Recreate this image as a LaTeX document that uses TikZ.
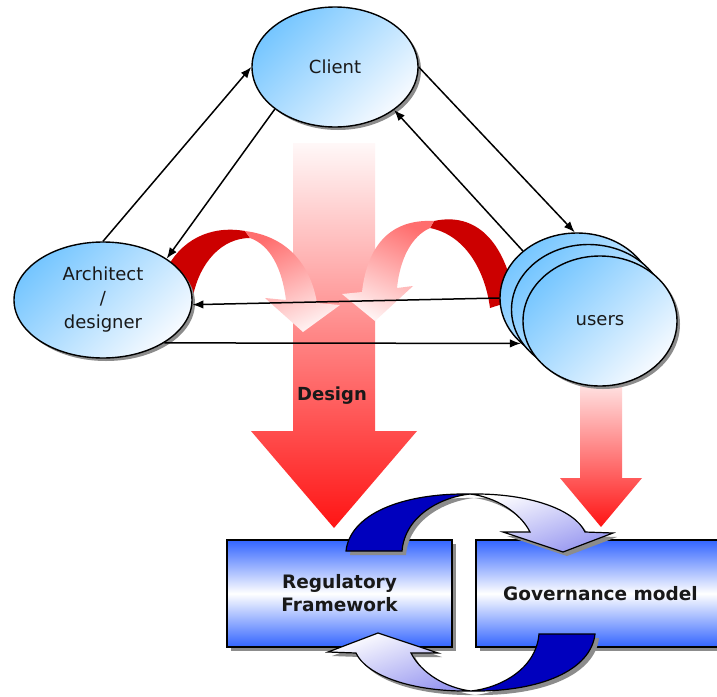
\documentclass[tikz,border=0pt]{standalone}
\usepackage{fontspec}
\setmainfont{DejaVu Sans}
\usetikzlibrary{shapes.geometric,shadows,arrows.meta}
\definecolor{darkred}{RGB}{204,0,0}
\definecolor{skyb}{RGB}{118,198,255}
\definecolor{paleb}{RGB}{246,250,255}
\definecolor{boxblue}{RGB}{50,100,255}
\definecolor{ribdarkc}{RGB}{0,0,190}
\definecolor{ribpale}{RGB}{150,150,240}
\definecolor{shadowc}{RGB}{140,140,140}
\definecolor{txt}{RGB}{25,25,25}
\definecolor{pinktop}{RGB}{255,110,110}
\definecolor{pinkbot}{RGB}{255,242,242}
\definecolor{redtip}{RGB}{255,20,20}
\definecolor{redmid}{RGB}{255,196,196}
\definecolor{redtop}{RGB}{255,248,248}
\definecolor{redtop2}{RGB}{255,225,225}

\def\ribdark{(346,551) .. controls (350,515) and (400,493) .. (470,494) .. controls (442,497) and (405,515) .. (402,551) -- cycle}
\def\riblight{(470,494) .. controls (530,493) and (575,510) .. (585,532) -- (613,533) -- (563,552) -- (503,532) -- (530,532) .. controls (520,512) and (495,497) .. (470,494) -- cycle}

\begin{document}
\begin{tikzpicture}[x=1pt,y=-1pt,
  oval/.style={ellipse, draw=black, line width=1.4pt, top color=skyb, bottom color=paleb, shading angle=45,
    drop shadow={shadow xshift=3pt,shadow yshift=-3pt,fill=shadowc,opacity=1},
    text=txt, font=\fontsize{18}{24}\selectfont, align=center, inner sep=0pt},
  box/.style={rectangle, draw=black, line width=1.4pt, top color=boxblue, bottom color=boxblue, middle color=white,
    drop shadow={shadow xshift=4pt,shadow yshift=-4pt,fill=shadowc,opacity=1},
    text=txt, font=\bfseries\fontsize{18.5}{23}\selectfont, align=center, inner sep=0pt},
  conn/.style={draw=black, line width=1.5pt, -{Latex[length=11pt,width=8.5pt]}},
  ribshadow/.style={fill=shadowc},
  ribdarkstyle/.style={fill=ribdarkc, draw=black, line width=1.2pt},
  riblightstyle/.style={top color=white, bottom color=ribpale, shading angle=20},
  ribline/.style={draw=black, line width=1.2pt}
]
\useasboundingbox (0,0) rectangle (717,696);
\fill[white] (0,0) rectangle (717,696);

% big straight arrows
\shade[top color=redtop, middle color=redmid, bottom color=redtip]
  (293,143) -- (375,143) -- (375,431) -- (417,431) -- (334,528) -- (251,431) -- (293,431) -- cycle;
\shade[top color=redtop2, bottom color=redtip]
  (580,385) -- (622,385) -- (622,478) -- (642,478) -- (601,527) -- (560,478) -- (580,478) -- cycle;

% curved red arrows
\fill[darkred] (165,272) .. controls (180,240) and (210,225) .. (245,231) -- (250,238)
  .. controls (222,238) and (200,262) .. (193,296) -- cycle;
\shade[top color=pinktop, bottom color=pinkbot, shading angle=25]
  (245,231) .. controls (285,236) and (310,262) .. (317,303) -- (340,305) -- (303,332) -- (265,298) -- (286,300)
  .. controls (282,268) and (270,245) .. (250,238) -- cycle;
\fill[darkred] (434,221) .. controls (475,212) and (505,240) .. (515,300) -- (490,308)
  .. controls (485,270) and (465,235) .. (430,228) -- cycle;
\shade[top color=pinktop, bottom color=pinkbot, shading angle=-25]
  (434,221) .. controls (395,219) and (368,240) .. (362,292) -- (342,294) -- (375,321) -- (413,286) -- (397,288)
  .. controls (400,258) and (412,236) .. (430,228) -- cycle;

% ellipses
\node[oval, minimum width=166pt, minimum height=120pt] (client) at (335,67) {Client};
\node[oval, minimum width=178pt, minimum height=116pt] (arch) at (103,300) {Architect\\/\\designer};
\node[oval, minimum width=154pt, minimum height=130pt] (usersback) at (577,298) {};
\node[oval, minimum width=154pt, minimum height=130pt] (usersmid) at (588.5,309.5) {};
\node[oval, minimum width=154pt, minimum height=130pt] (users) at (600,321) {users};

% connectors
\draw[conn] (arch.90) -- (client.180);
\draw[conn] (client.215.6) -- (arch.33);
\draw[conn] (client.0) -- (usersback.92);
\draw[conn] (usersback.139) -- (client.-36.5);
\draw[conn] (usersback.180) -- (arch.-3);
\draw[conn] (arch.-35) -- (usersback.219.3);

\node[text=txt, font=\bfseries\fontsize{18}{22}\selectfont] (design) at (332,396) {Design};

% boxes
\node[box, minimum width=225pt, minimum height=107pt] (reg) at (339.5,593.5) {Regulatory\\Framework};
\node[box, minimum width=249pt, minimum height=107pt] (gov) at (600.5,593.5) {Governance model};

% top ribbon
\begin{scope}[xshift=4pt,yshift=-4pt]
  \fill[ribshadow] \ribdark;
  \fill[ribshadow] \riblight;
\end{scope}
\filldraw[ribdarkstyle] \ribdark;
\shade[riblightstyle] \riblight;
\draw[ribline] \riblight;

% bottom ribbon (point symmetric)
\begin{scope}[xshift=4pt,yshift=-4pt]
  \begin{scope}[rotate around={180:(470.5,592.5)}]
    \fill[ribshadow] \ribdark;
    \fill[ribshadow] \riblight;
  \end{scope}
\end{scope}
\begin{scope}[rotate around={180:(470.5,592.5)}]
  \filldraw[ribdarkstyle] \ribdark;
  \shade[riblightstyle] \riblight;
  \draw[ribline] \riblight;
\end{scope}
\end{tikzpicture}
\end{document}
